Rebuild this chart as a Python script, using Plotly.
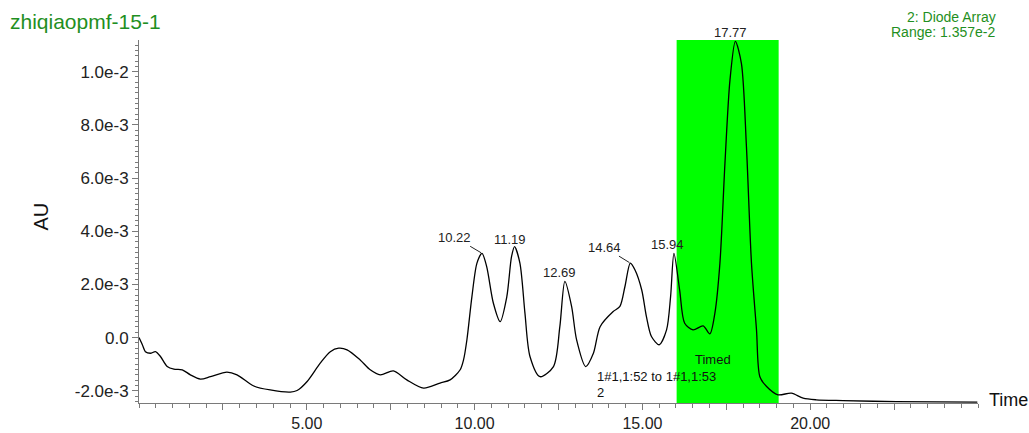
import plotly.graph_objects as go

# ---------------- data ----------------
time_min = [0.00, 0.10, 0.19, 0.34, 0.49, 0.64, 0.84, 1.04, 1.29, 1.53, 1.83, 2.13, 2.62, 2.92,
            3.42, 3.91, 4.51, 4.71, 5.01, 5.40, 5.70, 5.95, 6.20, 6.59, 6.89, 7.19, 7.58, 7.98,
            8.48, 8.97, 9.27, 9.57, 9.67, 9.77, 9.92, 10.07, 10.22, 10.36, 10.56, 10.76, 10.96,
            11.10, 11.19, 11.35, 11.50, 11.65, 11.95, 12.35, 12.54, 12.69, 12.89, 13.04, 13.31,
            13.54, 13.74, 14.13, 14.33, 14.48, 14.64, 14.78, 14.98, 15.12, 15.27, 15.50, 15.72,
            15.84, 15.94, 16.11, 16.26, 16.51, 16.81, 17.01, 17.16, 17.31, 17.46, 17.61, 17.77,
            17.95, 18.10, 18.25, 18.40, 18.50, 18.70, 19.04, 19.44, 19.79, 20.18, 20.98, 22.57,
            24.98]
absorbance_milli = [0.00, -0.27, -0.53, -0.59, -0.53, -0.71, -1.09, -1.19, -1.21, -1.40, -1.56,
                    -1.47, -1.30, -1.40, -1.82, -1.97, -2.05, -1.99, -1.65, -0.96, -0.53, -0.40,
                    -0.46, -0.84, -1.21, -1.40, -1.25, -1.59, -1.90, -1.71, -1.59, -1.21, -0.84,
                    -0.09, 1.54, 2.80, 3.17, 2.67, 1.29, 0.60, 1.54, 3.04, 3.42, 2.80, 0.92, -0.71,
                    -1.47, -1.09, 0.41, 2.11, 1.17, -0.09, -1.09, -0.59, 0.41, 0.98, 1.17, 1.92,
                    2.80, 2.54, 1.79, 0.79, 0.04, -0.27, 0.29, 1.54, 3.17, 1.79, 0.54, 0.29, 0.44,
                    0.14, 0.92, 2.80, 6.56, 9.69, 11.14, 10.31, 7.18, 2.80, 0.29, -1.47, -1.84,
                    -2.15, -2.09, -2.28, -2.34, -2.37, -2.41, -2.43]
absorbance = [v * 1e-3 for v in absorbance_milli]

peak_times = [10.22, 11.19, 12.69, 14.64, 15.94, 17.77]
timed_window = [16.02, 19.06]          # green "Timed" region (min)

y_tickvals = [-2e-3, 0.0, 2e-3, 4e-3, 6e-3, 8e-3, 1e-2]
y_ticktext = ["-2.0e-3", "0.0", "2.0e-3", "4.0e-3", "6.0e-3", "8.0e-3", "1.0e-2"]
x_tickvals = [2.5, 5, 7.5, 10, 12.5, 15, 17.5, 20, 22.5]
x_ticktext = ["", "5.00", "", "10.00", "", "15.00", "", "20.00", ""]

FONT = "Liberation Sans, Arial, sans-serif"
GREEN_TXT = "#1f8f22"
AXIS_COL = "#7a7a7a"

fig = go.Figure()

fig.add_trace(go.Scatter(
    x=time_min, y=absorbance, mode="lines",
    line=dict(color="black", width=1.3, shape="spline", smoothing=0.8),
    hoverinfo="skip", showlegend=False))

# green timed window
fig.add_shape(type="rect", xref="x", yref="paper",
              x0=timed_window[0], x1=timed_window[1], y0=0, y1=1,
              fillcolor="#00ff00", line=dict(width=0), layer="below")

# peak labels
label_style = {
    10.22: dict(showarrow=True, ax=-27, ay=-16),
    11.19: dict(showarrow=False, xshift=-5, yshift=-2),
    12.69: dict(showarrow=False, xshift=-5, yshift=-1),
    14.64: dict(showarrow=True, ax=-26, ay=-16),
    15.94: dict(showarrow=False, xshift=-6, yshift=-1),
    17.77: dict(showarrow=False, xshift=-5, yshift=-1),
}
for pt in peak_times:
    idx = time_min.index(pt)
    st = label_style[pt]
    kw = dict(x=pt, y=absorbance[idx], xref="x", yref="y", text=f"{pt:.2f}",
              font=dict(family=FONT, size=13, color="#222"))
    if st["showarrow"]:
        kw.update(showarrow=True, arrowhead=0, arrowwidth=1, arrowcolor="#222",
                  ax=st["ax"], ay=st["ay"], standoff=1)
    else:
        kw.update(showarrow=False, yanchor="bottom", xshift=st["xshift"], yshift=st["yshift"])
    fig.add_annotation(**kw)

# event texts
fig.add_annotation(x=17.1, y=-0.84e-3, xref="x", yref="y", text="Timed", showarrow=False,
                   font=dict(family=FONT, size=13, color="#111"))
fig.add_annotation(x=13.59, y=-1.47e-3, xref="x", yref="y", text="1#1,1:52 to 1#1,1:53",
                   showarrow=False, xanchor="left", font=dict(family=FONT, size=13, color="#111"))
fig.add_annotation(x=13.59, y=-2.08e-3, xref="x", yref="y", text="2",
                   showarrow=False, xanchor="left", font=dict(family=FONT, size=13, color="#111"))

# header texts
fig.add_annotation(x=1.0238, y=1.064, xref="paper", yref="paper", text="2: Diode Array",
                   showarrow=False, xanchor="right", yanchor="middle",
                   font=dict(family=FONT, size=14, color=GREEN_TXT))
fig.add_annotation(x=1.0238, y=1.0229, xref="paper", yref="paper", text="Range: 1.357e-2",
                   showarrow=False, xanchor="right", yanchor="middle",
                   font=dict(family=FONT, size=14, color=GREEN_TXT))
fig.add_annotation(x=1.0104, y=0.008, xref="paper", yref="paper", text="Time",
                   showarrow=False, xanchor="left", yanchor="middle",
                   font=dict(family=FONT, size=18, color="#111"))
fig.add_annotation(x=-0.1323, y=0.5138, xref="paper", yref="paper", text="AU",
                   showarrow=False, textangle=-90,
                   font=dict(family=FONT, size=20, color="#111"))

fig.update_layout(
    width=1029, height=433,
    margin=dict(l=139, r=51, t=40, b=30, autoexpand=False),
    paper_bgcolor="white", plot_bgcolor="white",
    title=dict(text="zhiqiaopmf-15-1", x=10 / 1029, xanchor="left", xref="container",
               y=1 - 22 / 433, yanchor="middle", yref="container",
               font=dict(family=FONT, size=21, color=GREEN_TXT)),
    xaxis=dict(range=[0, 25], showgrid=False, zeroline=False, automargin=False,
               showline=True, linecolor=AXIS_COL, linewidth=1,
               tickmode="array", tickvals=x_tickvals, ticktext=x_ticktext,
               ticks="outside", ticklen=6, tickcolor=AXIS_COL, tickwidth=1,
               tickfont=dict(family=FONT, size=16, color="#222"),
               minor=dict(dtick=0.5, tick0=0, ticks="outside", ticklen=4,
                          tickcolor=AXIS_COL, tickwidth=1)),
    yaxis=dict(range=[-0.00246, 0.01119], showgrid=False, zeroline=False, automargin=False,
               showline=True, linecolor=AXIS_COL, linewidth=1,
               tickmode="array", tickvals=y_tickvals, ticktext=y_ticktext,
               ticks="outside", ticklen=6, tickcolor=AXIS_COL, tickwidth=1,
               tickfont=dict(family=FONT, size=17, color="#222"),
               minor=dict(dtick=0.0002, tick0=0, ticks="outside", ticklen=3,
                          tickcolor=AXIS_COL, tickwidth=1)),
)

fig.write_html("out.html", config={"displayModeBar": False},
               post_script="document.body.style.margin='0px';")
